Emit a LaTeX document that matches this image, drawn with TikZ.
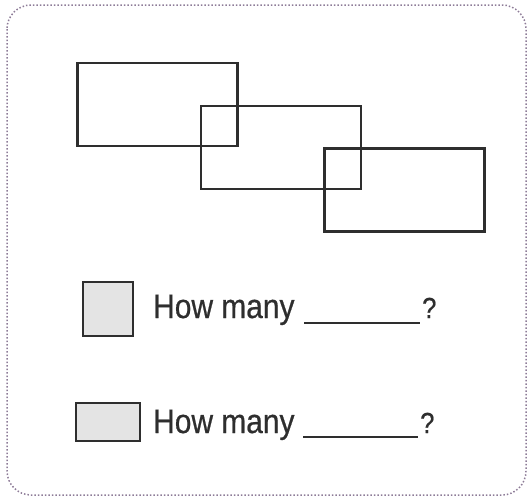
\documentclass[tikz,border=0pt]{standalone}
\usepackage{fontspec}
\setmainfont{Liberation Sans}
\newfontfamily\qfont[FakeStretch=0.88,FakeBold=0.6]{Liberation Sans}
\definecolor{frame}{HTML}{8E7C98}
\definecolor{ink}{HTML}{2E2E2E}
\definecolor{shade}{HTML}{E4E4E4}
\begin{document}
\begin{tikzpicture}[x=1pt,y=-1pt,
  bigrect/.style={draw=ink,line width=2.6pt,inner sep=0pt,minimum width=160pt,minimum height=83pt},
  swatch/.style={draw=ink,fill=shade,line width=1.6pt,inner sep=0pt},
  qtext/.style={font=\qfont\fontsize{34}{36}\selectfont,text=ink,inner sep=0pt,anchor=base west},
  qmark/.style={font=\qfont\fontsize{29}{31}\selectfont,text=ink,inner sep=0pt,anchor=base west},
  blank/.style={draw=ink,line width=1.8pt}]
\useasboundingbox (0,0) rectangle (529,498);
\draw[frame,line width=1.5pt,dotted,rounded corners=24pt] (7,5) rectangle (526,495);
\node[bigrect] (r1) at (157.5,104.5) {};
\node[bigrect] (r2) at (281,147.5) {};
\node[bigrect] (r3) at (404.5,190) {};
\node[swatch,minimum width=50pt,minimum height=54pt] (s1) at (108,309) {};
\node[swatch,minimum width=64pt,minimum height=38pt] (s2) at (108,422) {};
\node[qtext] (t1) at (153,318) {How many};
\node[qtext] (t2) at (153,433) {How many};
\coordinate (b1a) at (304,323);
\coordinate (b1b) at (420,323);
\coordinate (b2a) at (303,437);
\coordinate (b2b) at (418,437);
\draw[blank] (b1a) -- (b1b);
\draw[blank] (b2a) -- (b2b);
\node[qmark] (q1) at ([xshift=2pt]b1b |- t1.base) {?};
\node[qmark] (q2) at ([xshift=2pt]b2b |- t2.base) {?};
\end{tikzpicture}
\end{document}
